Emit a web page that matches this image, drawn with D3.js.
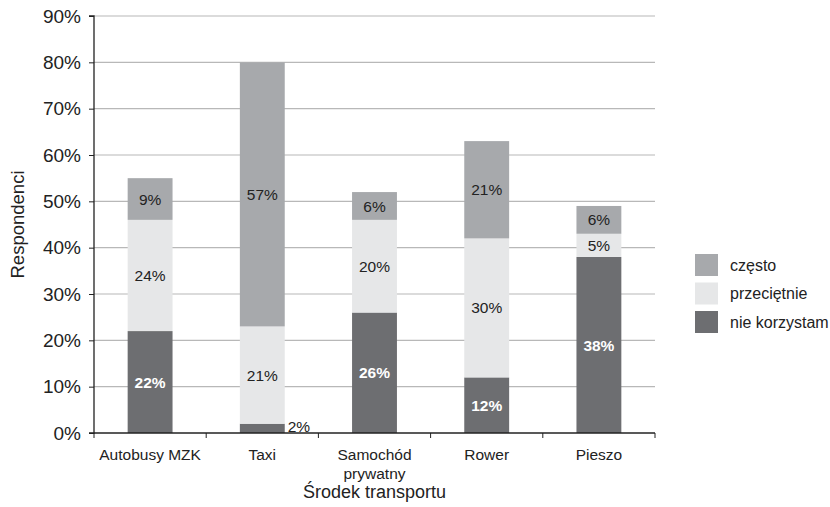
<!DOCTYPE html>
<html><head><meta charset="utf-8">
<script src="https://cdn.jsdelivr.net/npm/d3@7"></script>
<style>body{margin:0;background:#fff}svg{display:block;font-family:"Liberation Sans",Arial,sans-serif}</style>
</head><body>
<svg id="c" width="830" height="507"></svg>
<script>
const categories = [["Autobusy MZK"], ["Taxi"], ["Samochód", "prywatny"], ["Rower"], ["Pieszo"]];
const seriesNames = ["nie korzystam", "przeciętnie", "często"];
const nieKorzystam = [22, 2, 26, 12, 38];
const przecietnie = [24, 21, 20, 30, 5];
const czesto = [9, 57, 6, 21, 6];
const yTicks = [0, 10, 20, 30, 40, 50, 60, 70, 80, 90];
const colors = ["#6d6e71", "#e6e7e8", "#a7a9ac"];

const svg = d3.select("#c");
const m = {l: 94, r: 175, t: 16, b: 74};
const W = 830 - m.l - m.r, H = 507 - m.t - m.b;
const g = svg.append("g").attr("transform", `translate(${m.l},${m.t})`);
const keys = categories.map(c => c.join(" "));
const x = d3.scaleBand().domain(keys).range([0, W]).paddingInner(0.6).paddingOuter(0.3);
const xAxisScale = d3.scaleBand().domain(keys).range([0, W]);
const y = d3.scaleLinear().domain([0, 90]).range([H, 0]);

// grid
g.append("g").selectAll("line").data(yTicks.slice(1)).join("line")
  .attr("x1", 0).attr("x2", W).attr("y1", d => y(d)).attr("y2", d => y(d))
  .attr("stroke", "#b8b8b8").attr("stroke-width", 1.2);

const data = keys.map((k, i) => ({key: k, v: [nieKorzystam[i], przecietnie[i], czesto[i]]}));
const stack = d3.stack().keys([0, 1, 2]).value((d, k) => d.v[k]);
const layers = stack(data);

layers.forEach((layer, li) => {
  g.append("g").selectAll("rect").data(layer).join("rect")
    .attr("x", d => x(d.data.key)).attr("width", x.bandwidth())
    .attr("y", d => y(d[1])).attr("height", d => y(d[0]) - y(d[1]))
    .attr("fill", colors[li]);
  g.append("g").selectAll("text").data(layer).join("text")
    .attr("x", d => (d[1] - d[0]) < 4 ? x(d.data.key) + x.bandwidth() + 3 : x(d.data.key) + x.bandwidth() / 2)
    .attr("y", d => y((d[0] + d[1]) / 2) + ((d[1] - d[0]) < 4 ? -2 : 0))
    .attr("dy", "0.36em")
    .attr("text-anchor", d => (d[1] - d[0]) < 4 ? "start" : "middle")
    .attr("font-size", 15.5)
    .attr("font-weight", d => (li === 0 && (d[1] - d[0]) >= 4) ? "bold" : "normal")
    .attr("fill", d => (li === 0 && (d[1] - d[0]) >= 4) ? "#fff" : "#222")
    .text(d => (d[1] - d[0]) + "%");
});

// y axis
const ya = g.append("g").call(d3.axisLeft(y).tickValues(yTicks).tickFormat(d => d + "%").tickSize(5).tickPadding(8));
ya.attr("font-family", null).attr("font-size", null);
ya.select(".domain").attr("stroke", "#222").attr("stroke-width", 1.3).attr("d", `M-5,${H}H0V0H-5`);
ya.selectAll(".tick line").attr("stroke", "#222");
ya.selectAll(".tick text").attr("font-size", 19).attr("fill", "#222");

// x axis
const xa = g.append("g").attr("transform", `translate(0,${H})`);
xa.append("line").attr("x1", 0).attr("x2", W).attr("stroke", "#222").attr("stroke-width", 1.3);
xa.selectAll("line.t").data(d3.range(keys.length + 1)).join("line").attr("class", "t")
  .attr("x1", i => i * xAxisScale.step()).attr("x2", i => i * xAxisScale.step())
  .attr("y1", 0).attr("y2", 5).attr("stroke", "#222");
xa.selectAll("text").data(categories).join("text")
  .attr("x", (d, i) => xAxisScale(keys[i]) + xAxisScale.bandwidth() / 2)
  .attr("text-anchor", "middle").attr("font-size", 15.5).attr("fill", "#222")
  .each(function(d) {
    d3.select(this).selectAll("tspan").data(d).join("tspan")
      .attr("x", d3.select(this).attr("x")).attr("y", (t, j) => 27 + j * 19).text(t => t);
  });

// axis titles
svg.append("text").attr("x", m.l + W / 2).attr("y", 498).attr("text-anchor", "middle")
  .attr("font-size", 18).attr("fill", "#222").text("Środek transportu");
svg.append("text").attr("transform", `translate(24,${m.t + H / 2}) rotate(-90)`).attr("text-anchor", "middle")
  .attr("font-size", 18.5).attr("fill", "#222").text("Respondenci");

// legend
const legOrder = [2, 1, 0];
const leg = svg.append("g").attr("transform", "translate(695,254)");
legOrder.forEach((si, j) => {
  leg.append("rect").attr("x", 0).attr("y", j * 28.5).attr("width", 23).attr("height", 22).attr("fill", colors[si]);
  leg.append("text").attr("x", 35).attr("y", j * 28.5 + 11).attr("dy", "0.35em")
    .attr("font-size", 16).attr("fill", "#222").text(seriesNames[si]);
});
</script>
</body></html>
